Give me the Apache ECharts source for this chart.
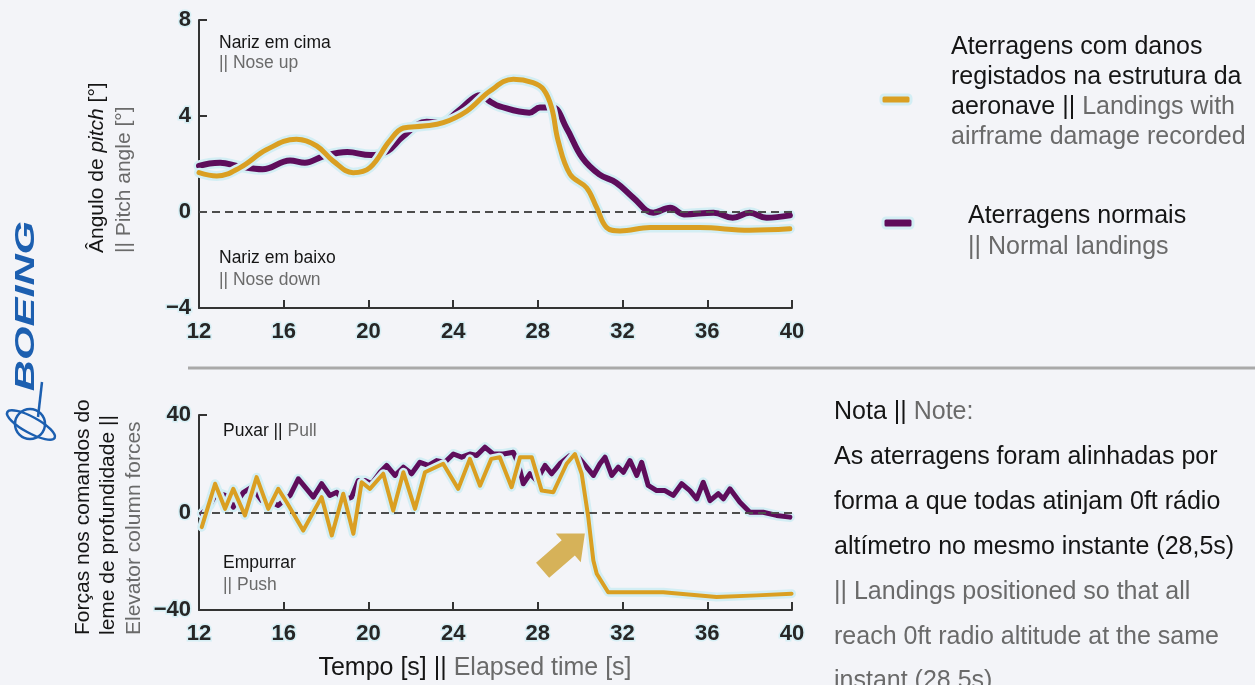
<!DOCTYPE html>
<html><head><meta charset="utf-8">
<script src="https://cdn.jsdelivr.net/npm/echarts@6/dist/echarts.min.js"></script>
<style>html,body{margin:0;padding:0;background:#F3F4F8}#c{width:1255px;height:685px}</style>
</head><body><div id="c"></div>
<script>
// ---- data ----
const timeTicks = [12, 16, 20, 24, 28, 32, 36, 40];
const pitchTicks = [-4, 0, 4, 8];
const forceTicks = [-40, 0, 40];

const pitchNormalT = [12.0,12.5,13.0,13.9,15.0,16.3,17.0,17.9,19.0,20.1,20.9,21.6,22.75,23.4,24.2,25.1,25.3,25.75,26.2,27.6,28.1,28.7,29.35,30.1,30.9,31.7,32.5,33.45,34.25,34.9,36.3,37.2,38.0,38.8,39.9];
const pitchNormalV = [1.92,2.02,2.05,1.9,1.78,2.15,2.05,2.33,2.5,2.37,2.54,3.12,3.76,3.72,4.18,4.83,4.86,4.6,4.4,4.14,4.35,4.35,3.5,2.26,1.57,1.22,0.6,-0.03,0.18,-0.1,-0.03,-0.24,-0.03,-0.24,-0.14];

const pitchDamageT = [12.0,12.84,13.94,15.2,16.6,17.56,18.34,19.28,20.07,21.0,21.65,22.6,23.53,24.64,25.74,26.84,27.77,28.26,28.65,28.96,29.52,30.3,30.78,31.25,31.88,33.3,35.65,38.0,39.9];
const pitchDamageV = [1.64,1.5,1.85,2.6,3.03,2.75,2.12,1.64,1.85,2.96,3.5,3.58,3.72,4.2,5.04,5.53,5.39,5.11,4.35,2.96,1.57,1.01,0.18,-0.65,-0.79,-0.65,-0.65,-0.76,-0.7];

const forceNormalT = [12.13,12.5,12.84,13.23,13.62,14.1,14.49,14.96,15.43,15.74,16.3,16.69,17.08,17.4,17.79,18.18,18.5,18.81,19.21,19.52,19.84,20.15,20.55,20.86,21.25,21.65,22.04,22.43,22.83,23.22,23.61,24.01,24.4,24.79,25.11,25.5,25.89,26.37,26.84,27.08,27.31,27.63,27.94,28.34,28.65,29.04,29.52,29.91,30.3,30.62,30.93,31.17,31.49,31.8,32.04,32.35,32.67,32.9,33.21,33.61,34.0,34.39,34.79,35.18,35.5,35.81,36.13,36.52,36.76,37.07,37.54,38.01,38.64,39.27,39.9];
const forceNormalV = [-0.5,2.9,8.3,7,2.2,8.3,10.4,4.9,4.2,2.9,7,13.8,9.7,6.3,11.8,7,8.3,4.9,6.3,13.1,13.1,11.8,16.5,19.3,15.2,18.6,15.9,20.6,19.3,21.3,20.6,24,22.7,24,23.4,26.8,24,24,24.7,20,11.8,15.9,13.1,19.3,15.9,20,23.4,22.7,18.6,15.2,20,22.7,15.2,18.6,16.5,21.3,15.2,20.6,11.1,9,9,7,11.8,9,5.6,12.4,4.9,7.7,5.6,9.7,4.2,0.1,0.1,-1.2,-1.9];

const forceDamageT = [12.13,12.76,13.23,13.62,14.17,14.72,15.27,15.74,16.14,16.92,17.79,18.27,18.81,19.29,19.68,20.07,20.7,21.17,21.65,22.2,22.67,23.53,24.24,24.79,25.27,25.8,26.2,26.76,27.16,27.71,28.18,28.73,29.36,29.75,30.07,30.38,30.62,30.78,31.32,33.92,36.44,38.33,39.98];
const forceDamageV = [-6,11.8,1.5,9.7,-1.2,14.5,1.5,9.7,4.2,-7.4,6.3,-9.4,7.7,-8.7,12.4,9.7,15.9,0.8,16.5,1.5,16.5,20,9.7,22,11,22,22.7,10.4,22.7,22.7,9,8.3,20,24,15.9,-1.9,-19.7,-25.1,-32.7,-32.7,-34.7,-34,-33.3];

// ---- styles ----
const ORANGE = '#DA9F22', PURPLE = '#5E0D5B', HALO = '#d3eef4';
const BLACK = '#151515', GRAY = '#6a6a6a';
const SANS = '"Liberation Sans", Arial, sans-serif';

function pairs(t, v) { return t.map((x, i) => [x, v[i]]); }

const tickLabel = {
  color: '#262626', fontFamily: SANS, fontWeight: 'bold', fontSize: 22,
  textBorderColor: '#d6eff5', textBorderWidth: 3
};
function xAxisCfg(g) {
  return {
    gridIndex: g, type: 'value', min: timeTicks[0], max: timeTicks[timeTicks.length - 1], interval: 4,
    axisLine: { show: true, onZero: false, lineStyle: { color: '#333', width: 2 } },
    axisTick: { show: true, inside: true, length: 8, lineStyle: { color: '#333', width: 2 } },
    axisLabel: Object.assign({ margin: 13 }, tickLabel),
    splitLine: { show: false }
  };
}
function yAxisCfg(g, ticks) {
  return {
    gridIndex: g, type: 'value', min: ticks[0], max: ticks[ticks.length - 1], interval: ticks[1] - ticks[0],
    axisLine: { show: true, onZero: false, lineStyle: { color: '#333', width: 2 } },
    axisTick: { show: true, inside: true, length: 8, lineStyle: { color: '#333', width: 2 } },
    axisLabel: Object.assign({ margin: 8, formatter: v => v < 0 ? '\u2212' + Math.abs(v) : String(v) }, tickLabel),
    splitLine: { show: false }
  };
}
const zeroLine = {
  silent: true, symbol: ['none', 'none'], label: { show: false },
  lineStyle: { type: [8, 5], color: '#4d4d4d', width: 2 },
  data: [{ yAxis: 0 }], animation: false
};
function lineSeries(g, data, color, width, smooth, z, mark) {
  const s = {
    type: 'line', xAxisIndex: g, yAxisIndex: g, data: data, symbol: 'none',
    smooth: smooth, lineStyle: { color: color, width: width, cap: 'round', join: 'round' },
    silent: true, z: z, animation: false
  };
  if (mark) s.markLine = zeroLine;
  return s;
}

const series = [
  lineSeries(0, pairs(pitchNormalT, pitchNormalV), HALO, 11, 0.4, 2, true),
  lineSeries(0, pairs(pitchNormalT, pitchNormalV), PURPLE, 6, 0.4, 3),
  lineSeries(0, pairs(pitchDamageT, pitchDamageV), HALO, 10, 0.4, 4),
  lineSeries(0, pairs(pitchDamageT, pitchDamageV), ORANGE, 5, 0.4, 5),
  lineSeries(1, pairs(forceNormalT, forceNormalV), HALO, 10, false, 2, true),
  lineSeries(1, pairs(forceNormalT, forceNormalV), PURPLE, 5, false, 3),
  lineSeries(1, pairs(forceDamageT, forceDamageV), HALO, 9, false, 4),
  lineSeries(1, pairs(forceDamageT, forceDamageV), ORANGE, 4, false, 5)
];

function mk(size) {
  return {
    b: { fontSize: size, fill: BLACK, fontFamily: SANS },
    g: { fontSize: size, fill: GRAY, fontFamily: SANS },
    i: { fontSize: size, fill: BLACK, fontFamily: SANS, fontStyle: 'italic' }
  };
}
function txt(x, y, text, size, extra, align) {
  const a = align || 'left';
  return Object.assign({
    type: 'text', x: x, y: y, silent: true, z: 50,
    style: { text: text, rich: mk(size), fill: BLACK, font: size + 'px ' + SANS,
      align: a, verticalAlign: 'middle', textAlign: a, textVerticalAlign: 'middle' }
  }, extra || {});
}
const ROT = { rotation: Math.PI / 2 };

const graphics = [
  // decorative corner
  { type: 'circle', shape: { cx: 1400, cy: 830, r: 205 }, style: { fill: '#e8eef8' }, silent: true, z: 0 },
  // separator
  { type: 'line', shape: { x1: 188, y1: 368, x2: 1255, y2: 368 }, style: { stroke: '#a9a9a9', lineWidth: 3 }, silent: true, z: 1 },
  // in-chart annotations
  txt(219, 43, '{b|Nariz em cima}', 17.5),
  txt(219, 63, '{g||| Nose up}', 17.5),
  txt(219, 258, '{b|Nariz em baixo}', 17.5),
  txt(219, 280, '{g||| Nose down}', 17.5),
  txt(223, 431, '{b|Puxar ||}{g| Pull}', 17.5),
  txt(223, 563, '{b|Empurrar}', 17.5),
  txt(223, 585, '{g||| Push}', 17.5),
  // axis titles
  txt(97, 253, '{b|\u00C2ngulo de }{i|pitch}{b| [\u00B0]}', 21, ROT),
  txt(124, 253, '{g||| Pitch angle [\u00B0]}', 21, ROT),
  txt(83, 635, '{b|For\u00E7as nos comandos do}', 21, ROT),
  txt(108, 635, '{b|leme de profundidade ||}', 21, ROT),
  txt(134, 635, '{g|Elevator column forces}', 21, ROT),
  txt(475, 668, '{b|Tempo [s] ||}{g| Elapsed time [s]}', 25, null, 'center'),
  // legend
  { type: 'rect', shape: { x: 881, y: 95, width: 30, height: 9, r: 3 }, style: { fill: ORANGE, stroke: HALO, lineWidth: 3 }, silent: true, z: 40 },
  { type: 'rect', shape: { x: 883, y: 218, width: 30, height: 10, r: 3 }, style: { fill: PURPLE, stroke: HALO, lineWidth: 3 }, silent: true, z: 40 },
  txt(951, 47, '{b|Aterragens com danos}', 25),
  txt(951, 77, '{b|registados na estrutura da}', 25),
  txt(951, 107, '{b|aeronave ||}{g| Landings with}', 25),
  txt(951, 137, '{g|airframe damage recorded}', 25),
  txt(968, 216, '{b|Aterragens normais}', 25),
  txt(968, 247, '{g||| Normal landings}', 25),
  // note
  txt(834, 412, '{b|Nota ||}{g| Note:}', 25),
  txt(834, 457, '{b|As aterragens foram alinhadas por}', 25),
  txt(834, 502, '{b|forma a que todas atinjam 0ft r\u00E1dio}', 25),
  txt(834, 547, '{b|alt\u00EDmetro no mesmo instante (28,5s)}', 25),
  txt(834, 592, '{g||| Landings positioned so that all}', 25),
  txt(834, 637, '{g|reach 0ft radio altitude at the same}', 25),
  txt(834, 681, '{g|instant (28,5s)}', 25),
  // Boeing logo
  { type: 'text', x: 27, y: 306, rotation: Math.PI / 2, scaleX: 1.6, silent: true, z: 50,
    style: { text: 'BOEING', fill: '#1c5fb0', font: 'italic 900 27px ' + SANS, align: 'center', verticalAlign: 'middle', textAlign: 'center', textVerticalAlign: 'middle' } },
  { type: 'circle', shape: { cx: 30, cy: 424, r: 15 }, style: { fill: 'none', stroke: '#1c5fb0', lineWidth: 2.5 }, silent: true, z: 50 },
  { type: 'ellipse', x: 31, y: 425, rotation: -0.5, shape: { cx: 0, cy: 0, rx: 27, ry: 8 }, style: { fill: 'none', stroke: '#1c5fb0', lineWidth: 2.5 }, silent: true, z: 50 },
  { type: 'line', shape: { x1: 42, y1: 382, x2: 38, y2: 417 }, style: { stroke: '#1c5fb0', lineWidth: 2.5 }, silent: true, z: 50 }
];

const chart = echarts.init(document.getElementById('c'), null, { renderer: 'canvas' });
chart.setOption({
  backgroundColor: '#F3F4F8',
  animation: false,
  grid: [
    { left: 199, top: 20, width: 593, height: 288 },
    { left: 199, top: 415, width: 593, height: 195 }
  ],
  xAxis: [xAxisCfg(0), xAxisCfg(1)],
  yAxis: [yAxisCfg(0, pitchTicks), yAxisCfg(1, forceTicks)],
  series: series,
  graphic: graphics
});

// annotation arrow placed via the bottom grid's scales
const tip = chart.convertToPixel({ gridIndex: 1 }, [30.22, -8.6]);
const ux = 0.755, uy = -0.657, nx = 0.657, ny = 0.755;
const L = 56, HL = 22, SW = 10, HW = 19;
const tail = [tip[0] - L * ux, tip[1] - L * uy];
const base = [tip[0] - HL * ux, tip[1] - HL * uy];
const pts = [
  [tail[0] - SW * nx, tail[1] - SW * ny],
  [tail[0] + SW * nx, tail[1] + SW * ny],
  [base[0] + SW * nx, base[1] + SW * ny],
  [base[0] + HW * nx, base[1] + HW * ny],
  tip,
  [base[0] - HW * nx, base[1] - HW * ny],
  [base[0] - SW * nx, base[1] - SW * ny]
];
graphics.push({ type: 'polygon', shape: { points: pts }, style: { fill: '#D6B259' }, silent: true, z: 45 });
chart.setOption({ graphic: graphics });
</script></body></html>
